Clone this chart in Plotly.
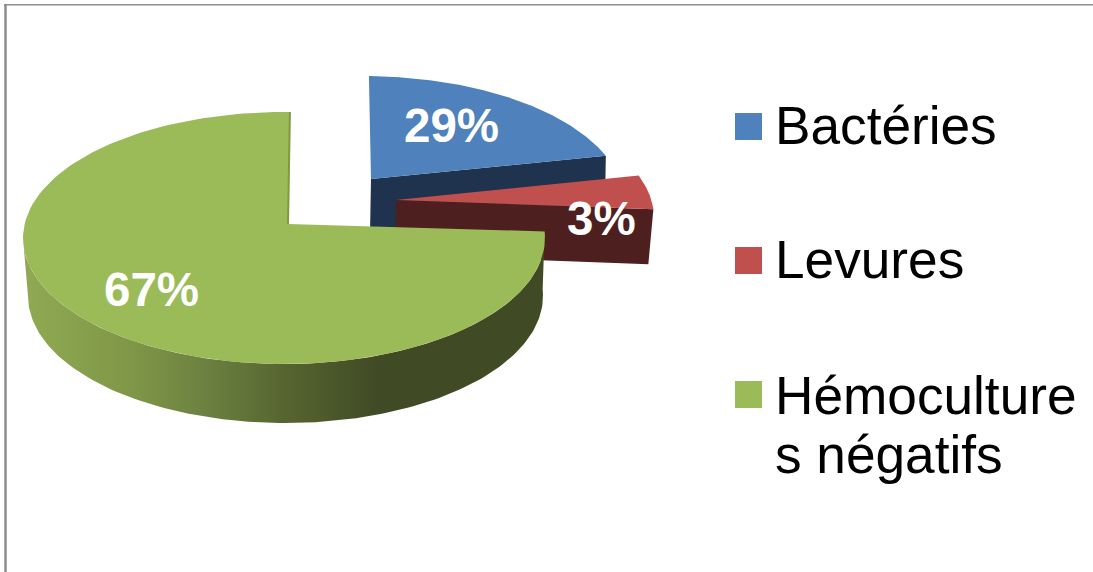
import numpy as np
import plotly.graph_objects as go

# ---- data ----
CATEGORIES = ["Bactéries", "Levures", "Hémocultures négatifs"]
VALUES = [29, 3, 67]
LEGEND_LINES = [["Bactéries"], ["Levures"], ["Hémoculture", "s négatifs"]]

# ---- style ----
TOP_COLORS = ["#4f81bd", "#c0504d", "#9bbb59"]
WALL_COLORS = ["#1f334f", "#4d1f1e", None]
FONT = "Liberation Sans, Arial, sans-serif"

# ---- 3D view of the pie (page pixels) ----
# cumulative value -> angle on the projected ellipse
CUM = np.concatenate([[0], np.cumsum(VALUES)])
VIEW_ANGLE = [88.7, 21.5, 3.0, -271.3]
ANGLE_NUDGE = [(0, 0), (-1.5, 1), (0, 0)]
RX, RY = 261, 126
CENTERS = [(363, 202), (393, 218), (284, 238)]
APEXES = [(371, 179), (396, 200), (288, 224)]
DEPTH = [55, 55, 58]
WALL_LEAN = [1, 5, 0]


def phi(cum_value):
    return np.interp(cum_value, CUM, VIEW_ANGLE)


def arc(center, start, stop, rx=RX, ry=RY, n=160):
    a = np.radians(np.linspace(start, stop, n))
    return center[0] + rx * np.cos(a), center[1] - ry * np.sin(a)


def add_poly(fig, x, y, color=None, **kw):
    fig.add_trace(go.Scatter(
        x=list(x), y=list(y), mode="lines", fill="toself",
        line=dict(width=0), fillcolor=color, hoverinfo="skip",
        showlegend=False, **kw))


fig = go.Figure()

for i in range(3):
    start = phi(CUM[i]) + ANGLE_NUDGE[i][0]
    stop = phi(CUM[i + 1]) + ANGLE_NUDGE[i][1]
    ax, ay = arc(CENTERS[i], start, stop)
    ap = APEXES[i]
    d = DEPTH[i]
    if i < 2:
        # front wall of an exploded slice
        wx = [ap[0], ax[-1], ax[-1] - WALL_LEAN[i], ap[0] - 1]
        wy = [ap[1], ay[-1], ay[-1] + d, ap[1] + d]
        add_poly(fig, wx, wy, WALL_COLORS[i])
    else:
        # outer rim of the big slice, shaded from left to right
        tx, ty = arc(CENTERS[i], start, -180)
        bx, by = arc((285.5, CENTERS[i][1] + d), start, -180, rx=257.5, ry=127)
        add_poly(
            fig,
            np.concatenate([tx, bx[::-1]]),
            np.concatenate([ty, by[::-1]]),
            fillgradient=dict(
                type="horizontal", start=28, stop=543,
                colorscale=[[0, "#8fa952"], [0.2, "#7f9747"], [0.35, "#6b8040"],
                            [0.5, "#566530"], [0.68, "#404a25"], [1, "#404a25"]],
            ),
        )
    # top face
    add_poly(fig, np.concatenate([[ap[0]], ax, [ap[0]]]),
             np.concatenate([[ap[1]], ay, [ap[1]]]), TOP_COLORS[i])
    if i == 2:
        fig.add_trace(go.Scatter(x=[ax[-1], ap[0]], y=[ay[-1], ap[1]], mode="lines",
                                 line=dict(color="#80993f", width=2),
                                 hoverinfo="skip", showlegend=False))

# legend swatches
LEG_X = 748.5
LEG_Y = [126.5, 260.5, 394.5]
fig.add_trace(go.Scatter(
    x=[LEG_X] * 3, y=LEG_Y, mode="markers", hoverinfo="skip", showlegend=False,
    marker=dict(symbol="square", size=27, color=TOP_COLORS, line=dict(width=0)),
))

annotations = []
# percent labels
LABEL_POS = [(451, 125), (601, 218), (151, 289)]
for v, (x, y) in zip(VALUES, LABEL_POS):
    annotations.append(dict(x=x, y=y, text=f"<b>{v}%</b>", showarrow=False,
                            xanchor="center", yanchor="middle",
                            font=dict(family=FONT, size=47.5, color="white")))
# legend texts
LEG_BASE = [[144], [278], [414, 473]]
for lines, bases in zip(LEGEND_LINES, LEG_BASE):
    for text, b in zip(lines, bases):
        annotations.append(dict(x=773, y=b - 19, text=text, showarrow=False,
                                xanchor="left", yanchor="middle",
                                font=dict(family=FONT, size=53.2, color="black")))

fig.update_layout(
    width=1093, height=572, autosize=False,
    margin=dict(l=0, r=0, t=0, b=0),
    paper_bgcolor="white", plot_bgcolor="white",
    showlegend=False,
    xaxis=dict(range=[0, 1093], visible=False, fixedrange=True),
    yaxis=dict(range=[572, 0], visible=False, fixedrange=True),
    annotations=annotations,
    shapes=[
        dict(type="line", x0=4, x1=1093, y0=4.7, y1=4.7, layer="below",
             line=dict(color="#8c8c8c", width=1.5)),
        dict(type="line", x0=5.5, x1=5.5, y0=4, y1=572, layer="below",
             line=dict(color="#8c8c8c", width=2.5)),
    ],
)

fig.write_html("out.html", config={"displayModeBar": False},
               post_script="document.body.style.margin='0';document.body.style.overflow='hidden';")
